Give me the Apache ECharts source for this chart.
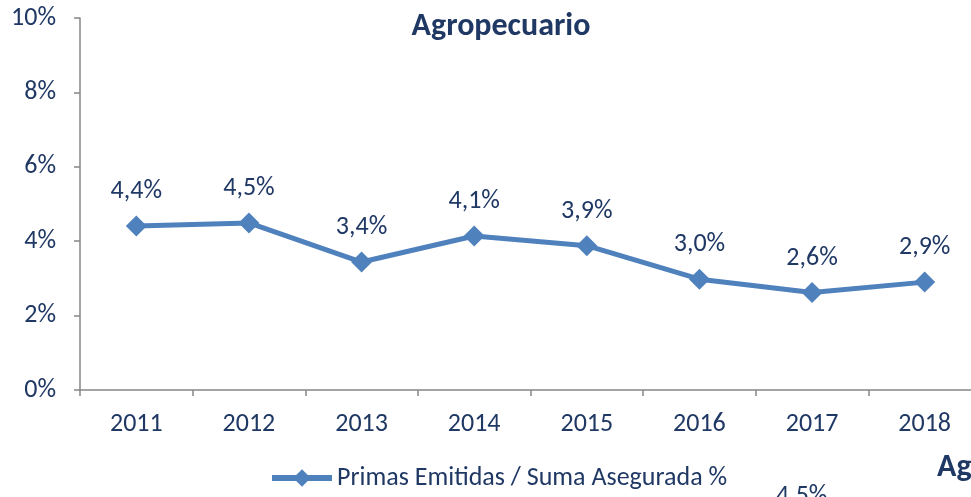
<!DOCTYPE html>
<html>
<head>
<meta charset="utf-8">
<script src="https://cdn.jsdelivr.net/npm/echarts@6/dist/echarts.min.js"></script>
<style>
  html, body { margin: 0; padding: 0; background: #fff; overflow: hidden; }
  #chart { width: 971px; height: 497px; }
</style>
</head>
<body>
<div id="chart"></div>
<script>
  // datos
  const years = ['2011', '2012', '2013', '2014', '2015', '2016', '2017', '2018'];
  const primasSuma = [4.41, 4.49, 3.44, 4.14, 3.88, 2.98, 2.62, 2.90];
  const seriesName = 'Primas Emitidas / Suma Asegurada %';

  const navy = '#1F3864';
  const font = 'Carlito, "Liberation Sans Narrow", "Open Sans", sans-serif';

  let myChart = echarts.init(document.getElementById('chart'));

  let option = {
    backgroundColor: '#fff',
    color: ['#4F81BD'],
    textStyle: { fontFamily: font },
    title: {
      text: 'Agropecuario',
      left: 496,
      textAlign: 'center',
      top: 6,
      textStyle: { color: navy, fontSize: 32, fontWeight: 'bold', fontFamily: font }
    },
    legend: {
      bottom: 1,
      left: 264,
      itemWidth: 60,
      itemHeight: 22,
      itemGap: 4,
      lineStyle: { width: 6 },
      textStyle: { color: navy, fontSize: 26, fontFamily: font },
      data: [seriesName]
    },
    // la rejilla sigue a la derecha fuera del recorte
    grid: {
      left: 80,
      width: 901,
      top: 18,
      bottom: 107,
      containLabel: false,
      outerBoundsMode: 'none'
    },
    xAxis: {
      type: 'category',
      data: years,
      boundaryGap: true,
      axisLine: { lineStyle: { color: '#868686', width: 1.5 } },
      axisTick: { show: true, length: 6, lineStyle: { color: '#868686', width: 1.5 } },
      axisLabel: { color: navy, fontSize: 26, margin: 21, fontFamily: font }
    },
    yAxis: {
      type: 'value',
      min: 0,
      max: 10,
      interval: 2,
      axisLine: { show: true, lineStyle: { color: '#868686', width: 1.5 } },
      axisTick: { show: true, length: 6, lineStyle: { color: '#868686', width: 1.5 } },
      splitLine: { show: false },
      axisLabel: { color: navy, fontSize: 26, margin: 24, formatter: '{value}%', fontFamily: font }
    },
    series: [{
      name: seriesName,
      type: 'line',
      data: primasSuma,
      symbol: 'diamond',
      symbolSize: 21,
      lineStyle: { width: 5 },
      label: {
        show: true,
        position: 'top',
        distance: 11,
        color: navy,
        fontSize: 26,
        fontFamily: font,
        formatter: (p) => p.value.toFixed(1).replace('.', ',') + '%'
      }
    }],
    // restos del grafico siguiente (recortado)
    graphic: [
      { type: 'text', left: 776, top: 483, style: { text: '4,5%', fill: navy, font: '26px ' + font } },
      { type: 'text', left: 937, top: 452, style: { text: 'Ag', fill: navy, font: 'bold 32px ' + font } }
    ]
  };

  myChart.setOption(option);
  window.addEventListener('resize', function () { myChart.resize() });
</script>
</body>
</html>
